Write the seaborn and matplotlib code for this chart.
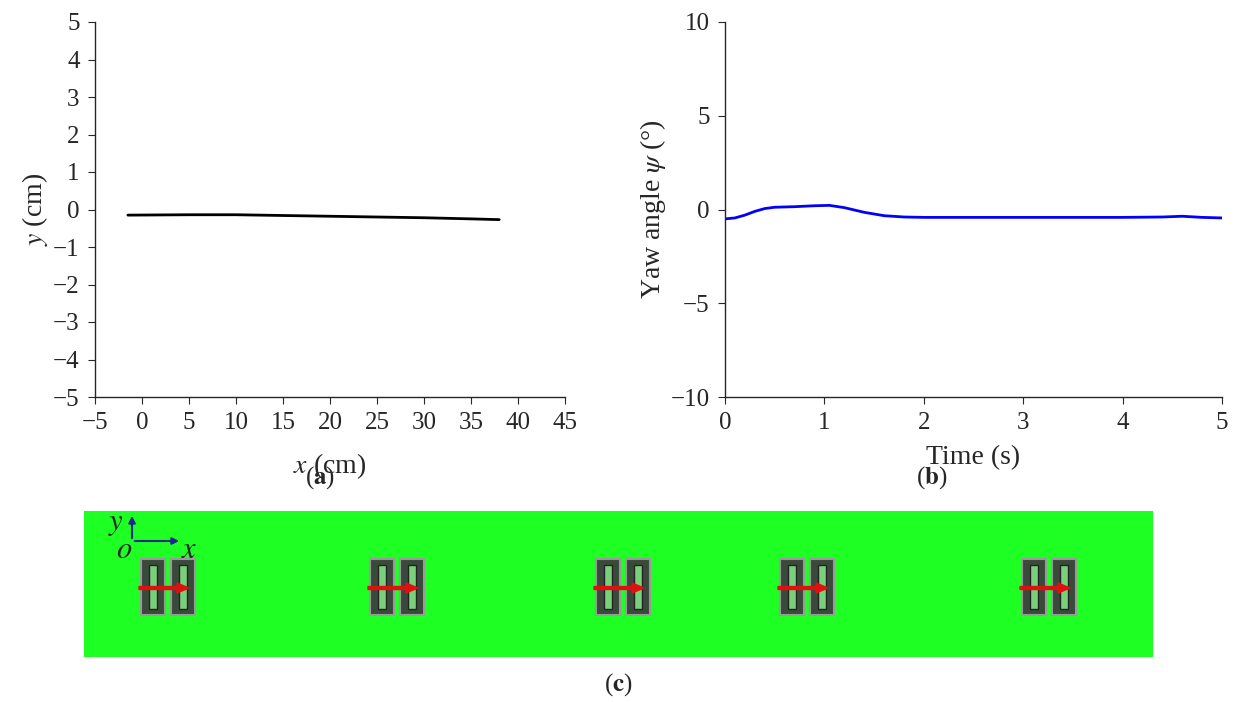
import numpy as np
import matplotlib.pyplot as plt
import seaborn as sns
from matplotlib.patches import Rectangle, FancyArrow

sns.set_style("ticks")
plt.rcParams['font.family'] = ['Liberation Serif', 'DejaVu Serif']
plt.rcParams['mathtext.fontset'] = 'stix'

# (a) trajectory
traj_x = [-1.5, 5, 10, 15, 20, 25, 30, 35, 38]
traj_y = [-0.15, -0.14, -0.14, -0.16, -0.18, -0.20, -0.22, -0.25, -0.27]

# (b) yaw angle
yaw_t = [0, 0.1, 0.2, 0.3, 0.4, 0.5, 0.7, 0.9, 1.05, 1.2, 1.4, 1.6, 1.8, 2.0, 2.5, 3.0, 3.5, 4.0, 4.4, 4.6, 4.8, 5.0]
yaw_v = [-0.5, -0.45, -0.3, -0.1, 0.05, 0.12, 0.15, 0.2, 0.22, 0.1, -0.15, -0.33, -0.4, -0.42, -0.42, -0.42, -0.42, -0.42, -0.4, -0.36, -0.42, -0.45]

# (c) robot snapshot positions (panel units)
robot_x = [83, 312, 538, 722, 964]

fig = plt.figure(figsize=(12.37, 7.02), dpi=100)
W, H = 1237, 702

def px_axes(x0, y0, x1, y1):
    return fig.add_axes([x0 / W, 1 - y1 / H, (x1 - x0) / W, (y1 - y0) / H])

ax1 = px_axes(95, 22, 565, 397)
sns.lineplot(x=traj_x, y=traj_y, ax=ax1, color='black', linewidth=2)
ax1.set_xlim(-5, 45)
ax1.set_ylim(-5, 5)
ax1.set_xticks(range(-5, 46, 5))
ax1.set_yticks(range(-5, 6))
ax1.set_xticklabels([str(v).replace('-', '\u2212') for v in range(-5, 46, 5)])
ax1.set_yticklabels([str(v).replace('-', '\u2212') for v in range(-5, 6)])
ax1.set_xlabel('$x$ (cm)', fontsize=20, labelpad=12)
ax1.set_ylabel('$y$ (cm)', fontsize=20, labelpad=2)

ax2 = px_axes(725, 22, 1222, 397)
sns.lineplot(x=yaw_t, y=yaw_v, ax=ax2, color='blue', linewidth=2)
ax2.set_xlim(0, 5)
ax2.set_ylim(-10, 10)
ax2.set_yticks([-10, -5, 0, 5, 10])
ax2.set_yticklabels(['\u221210', '\u22125', '0', '5', '10'])
ax2.set_xlabel('Time (s)', fontsize=20, labelpad=8)
ax2.set_ylabel('Yaw angle $\\psi$ (°)', fontsize=20, labelpad=2)

for ax in (ax1, ax2):
    ax.tick_params(labelsize=18, direction='out', length=5, pad=6)
    sns.despine(ax=ax)
    for s in ax.spines.values():
        s.set_linewidth(1)

fig.text(320 / W, 1 - 478 / H, '($\\bf{a}$)', ha='center', va='center', fontsize=18)
fig.text(932 / W, 1 - 478 / H, '($\\bf{b}$)', ha='center', va='center', fontsize=18)
fig.text(618 / W, 1 - 685 / H, '($\\bf{c}$)', ha='center', va='center', fontsize=18)

# (c) top view
ax3 = px_axes(84, 511, 1153, 657)
ax3.set_xlim(0, 1069)
ax3.set_ylim(146, 0)
ax3.set_facecolor('#1eff23')
ax3.set_xticks([])
ax3.set_yticks([])
for s in ax3.spines.values():
    s.set_visible(False)

for cx in robot_x:
    for dx in (-26, 4):
        ax3.add_patch(Rectangle((cx + dx, 48), 24, 56, facecolor='#3a4a3a', edgecolor='#999999', lw=1.5))
        ax3.add_patch(Rectangle((cx + dx + 8, 54), 8, 44, facecolor='#7ad07a', edgecolor='#222222', lw=1))
    ax3.add_patch(FancyArrow(cx - 28, 77, 50, 0, width=3, head_width=10, head_length=12,
                             color='#e01010', length_includes_head=True))

# coordinate frame
ax3.annotate('', xy=(48, 2), xytext=(48, 30), arrowprops=dict(arrowstyle='-|>', color='#1a2a8a', lw=1.5))
ax3.annotate('', xy=(98, 30), xytext=(48, 30), arrowprops=dict(arrowstyle='-|>', color='#1a2a8a', lw=1.5))
ax3.text(24, 12, '$y$', fontsize=22, va='center')
ax3.text(32, 40, '$o$', fontsize=22, va='center')
ax3.text(97, 40, '$x$', fontsize=22, va='center')

fig.savefig('out.png', dpi=100)
